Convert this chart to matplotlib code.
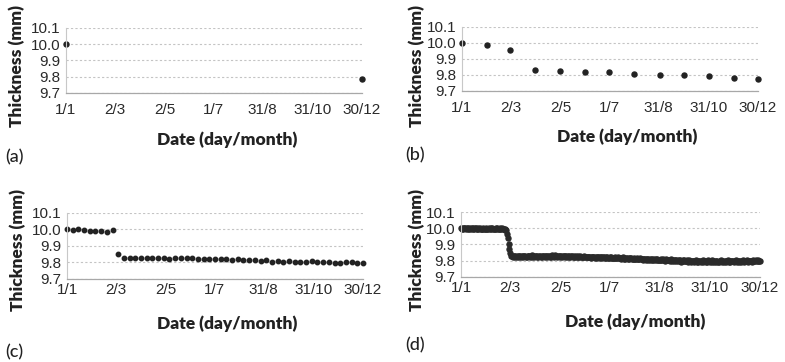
import numpy as np
import matplotlib
matplotlib.use("Agg")
import matplotlib.pyplot as plt

# x positions are day-of-year (1 = 1 Jan)
tick_days = [1, 61, 122, 182, 243, 304, 364]
tick_labels = ["1/1", "2/3", "2/5", "1/7", "31/8", "31/10", "30/12"]
y_ticks = [9.7, 9.8, 9.9, 10.0, 10.1]

# (a) start and end of year only
a_days = [1, 365]
a_vals = [10.000, 9.785]

# (b) first of every month
b_days = [1, 32, 60, 91, 121, 152, 182, 213, 244, 274, 305, 335, 365]
b_vals = [10.000, 9.985, 9.956, 9.829, 9.823, 9.818, 9.818, 9.806,
          9.798, 9.800, 9.793, 9.784, 9.778]

# (c) weekly readings
c_vals = [10.000, 9.995, 10.000, 9.998, 9.989, 9.992, 9.988, 9.984, 9.995,
          9.850, 9.826, 9.825, 9.826, 9.825, 9.827, 9.828, 9.826, 9.825, 9.824,
          9.828, 9.825, 9.826, 9.825, 9.824, 9.823, 9.824, 9.822, 9.820, 9.822,
          9.818, 9.820, 9.817, 9.818, 9.815, 9.810, 9.815, 9.805, 9.812, 9.806,
          9.810, 9.803, 9.803, 9.806, 9.807, 9.800, 9.800, 9.802, 9.798, 9.797,
          9.803, 9.804, 9.797, 9.798]

# (d) daily readings: plateau, step down, slow decline
d_plateau = [10.000, 9.998, 10.001, 9.997, 10.002, 9.999, 9.996, 10.001, 10.003, 9.998,
             9.997, 10.000, 9.995, 9.999, 10.002, 9.998, 9.996, 10.001, 9.999, 9.994,
             9.997, 10.000, 9.998, 10.002, 9.996, 9.993, 9.997, 9.999, 9.995, 9.998,
             10.001, 9.996, 9.994, 9.998, 10.000, 9.997, 9.995, 9.999, 10.002, 9.996,
             9.998, 9.994, 9.997, 10.000, 9.999, 9.995, 9.998, 10.001, 9.997, 9.996,
             9.999, 9.994, 9.997, 9.992, 9.995]
d_drop = [9.988, 9.965, 9.938, 9.905, 9.875, 9.845, 9.832]
d_after = [9.828, 9.826, 9.830, 9.827, 9.825, 9.829, 9.826, 9.831, 9.827, 9.824,
           9.829, 9.826, 9.828, 9.832, 9.825, 9.827, 9.830, 9.826, 9.823, 9.828,
           9.831, 9.827, 9.825, 9.829, 9.826, 9.833, 9.828, 9.824, 9.827, 9.830,
           9.826, 9.828, 9.825, 9.831, 9.827, 9.824, 9.829, 9.826, 9.832, 9.828,
           9.825, 9.830, 9.827, 9.823, 9.828, 9.831, 9.826, 9.829, 9.825, 9.833,
           9.829, 9.826, 9.831, 9.835, 9.827, 9.824, 9.830, 9.828, 9.825, 9.829,
           9.832, 9.826, 9.828, 9.830, 9.824, 9.827, 9.831, 9.825, 9.828, 9.826,
           9.829, 9.823, 9.827, 9.830, 9.825, 9.828, 9.822, 9.826, 9.829, 9.824,
           9.827, 9.821, 9.825, 9.828, 9.823, 9.826, 9.820, 9.824, 9.827, 9.822,
           9.825, 9.820, 9.823, 9.826, 9.821, 9.824, 9.819, 9.822, 9.825, 9.820,
           9.823, 9.818, 9.822, 9.825, 9.819, 9.821, 9.824, 9.818, 9.822, 9.820,
           9.817, 9.821, 9.824, 9.818, 9.820, 9.816, 9.822, 9.819, 9.815, 9.820,
           9.818, 9.821, 9.816, 9.819, 9.814, 9.818, 9.821, 9.815, 9.817, 9.820,
           9.814, 9.818, 9.816, 9.812, 9.817, 9.820, 9.813, 9.816, 9.811, 9.815,
           9.818, 9.812, 9.815, 9.810, 9.814, 9.817, 9.811, 9.813, 9.816, 9.810,
           9.813, 9.809, 9.815, 9.811, 9.808, 9.812, 9.815, 9.809, 9.811, 9.807,
           9.812, 9.808, 9.810, 9.806, 9.811, 9.813, 9.807, 9.809, 9.805, 9.810,
           9.807, 9.811, 9.805, 9.808, 9.804, 9.809, 9.806, 9.810, 9.803, 9.807,
           9.805, 9.809, 9.803, 9.806, 9.810, 9.804, 9.801, 9.806, 9.808, 9.802,
           9.806, 9.803, 9.799, 9.805, 9.808, 9.801, 9.804, 9.798, 9.803, 9.806,
           9.800, 9.804, 9.797, 9.802, 9.806, 9.799, 9.795, 9.801, 9.804, 9.798,
           9.802, 9.796, 9.800, 9.804, 9.794, 9.799, 9.803, 9.797, 9.793, 9.800,
           9.796, 9.801, 9.794, 9.798, 9.803, 9.795, 9.799, 9.792, 9.797, 9.801,
           9.794, 9.798, 9.802, 9.793, 9.797, 9.800, 9.795, 9.791, 9.798, 9.802,
           9.796, 9.793, 9.799, 9.803, 9.795, 9.798, 9.792, 9.797, 9.801, 9.794,
           9.799, 9.795, 9.791, 9.798, 9.802, 9.796, 9.793, 9.799, 9.795, 9.800,
           9.797, 9.792, 9.798, 9.803, 9.795, 9.799, 9.794, 9.797, 9.801, 9.796,
           9.793, 9.799, 9.796, 9.802, 9.794, 9.798, 9.795, 9.800, 9.797, 9.793,
           9.799, 9.803, 9.796, 9.794, 9.800, 9.797, 9.802, 9.795, 9.799, 9.796,
           9.801, 9.797, 9.794, 9.800, 9.803, 9.796, 9.799, 9.802, 9.797, 9.800,
           9.804, 9.798, 9.801]

c_days = 1 + 7 * np.arange(len(c_vals))
d_vals = d_plateau + d_drop + d_after
d_days = np.arange(1, len(d_vals) + 1)

tick_font = "Liberation Sans"
title_font = "Lato"
dark = "#222222"

fig = plt.figure(figsize=(7.85, 3.62), dpi=100)

W, H = 785, 362
# axes boxes in pixels: left, right, top, bottom
boxes = {
    "a": (66, 362, 28, 93),
    "b": (462, 758, 27, 91),
    "c": (67, 363, 213, 279),
    "d": (461, 760, 212, 277),
}
# axis-title centres in pixels: (ylabel x, ylabel y, xlabel x, xlabel y)
title_pos = {
    "a": (17, 66, 227, 140),
    "b": (417, 66, 627, 137),
    "c": (18, 250, 227, 324),
    "d": (417, 250, 635, 322),
}


def make_axes(key, tick_pad):
    l, r, t, b = boxes[key]
    ax = fig.add_axes([l / W, 1 - b / H, (r - l) / W, (b - t) / H])
    ax.set_xlim(1, 365)
    ax.set_ylim(9.7, 10.1)
    ax.set_yticks(y_ticks)
    ax.set_yticklabels([f"{v:.1f}" for v in y_ticks], fontfamily=tick_font, fontsize=11)
    ax.set_xticks(tick_days)
    ax.set_xticklabels(tick_labels, fontfamily=tick_font, fontsize=11)
    ax.tick_params(length=0, colors="#2a2a2a")
    ax.tick_params(axis="x", pad=tick_pad)
    ax.tick_params(axis="y", pad=4)
    ax.yaxis.grid(True, linestyle=(0, (2, 2)), color="#c4c4c4", lw=0.8)
    ax.set_axisbelow(True)
    for s in ("top", "right"):
        ax.spines[s].set_visible(False)
    ax.spines["left"].set_color("#c8c8c8")
    ax.spines["bottom"].set_color("#a8a8a8")
    ax.spines["left"].set_linewidth(0.8)
    ax.spines["bottom"].set_linewidth(0.9)
    yx, yy, xx, xy = title_pos[key]
    fig.text(yx / W, 1 - yy / H, "Thickness (mm)", fontfamily=title_font,
             fontweight="heavy", fontsize=12.5, color=dark, rotation=90,
             ha="center", va="center")
    fig.text(xx / W, 1 - xy / H, "Date (day/month)", fontfamily=title_font,
             fontweight="heavy", fontsize=12.5, color=dark, ha="center", va="center")
    return ax


ax_a = make_axes("a", 7)
ax_a.plot(a_days, a_vals, "o", ms=3.6, color=dark, clip_on=False)

ax_b = make_axes("b", 7)
ax_b.plot(b_days, b_vals, "o", ms=3.6, color=dark, clip_on=False)

ax_c = make_axes("c", 3)
ax_c.plot(c_days, c_vals, "o", ms=3.2, color=dark, clip_on=False)

ax_d = make_axes("d", 3)
ax_d.plot(d_days, d_vals, "o", ms=3.6, color="#2a2a2a", clip_on=False)

for label, (x, y) in zip(["(a)", "(b)", "(c)", "(d)"],
                         [(5, 157), (405, 155), (5, 352), (405, 345)]):
    fig.text(x / W, 1 - y / H, label, fontfamily=title_font, fontsize=13,
             fontweight="medium", color=dark, va="center", ha="left")

fig.savefig("out.png", dpi=100)
